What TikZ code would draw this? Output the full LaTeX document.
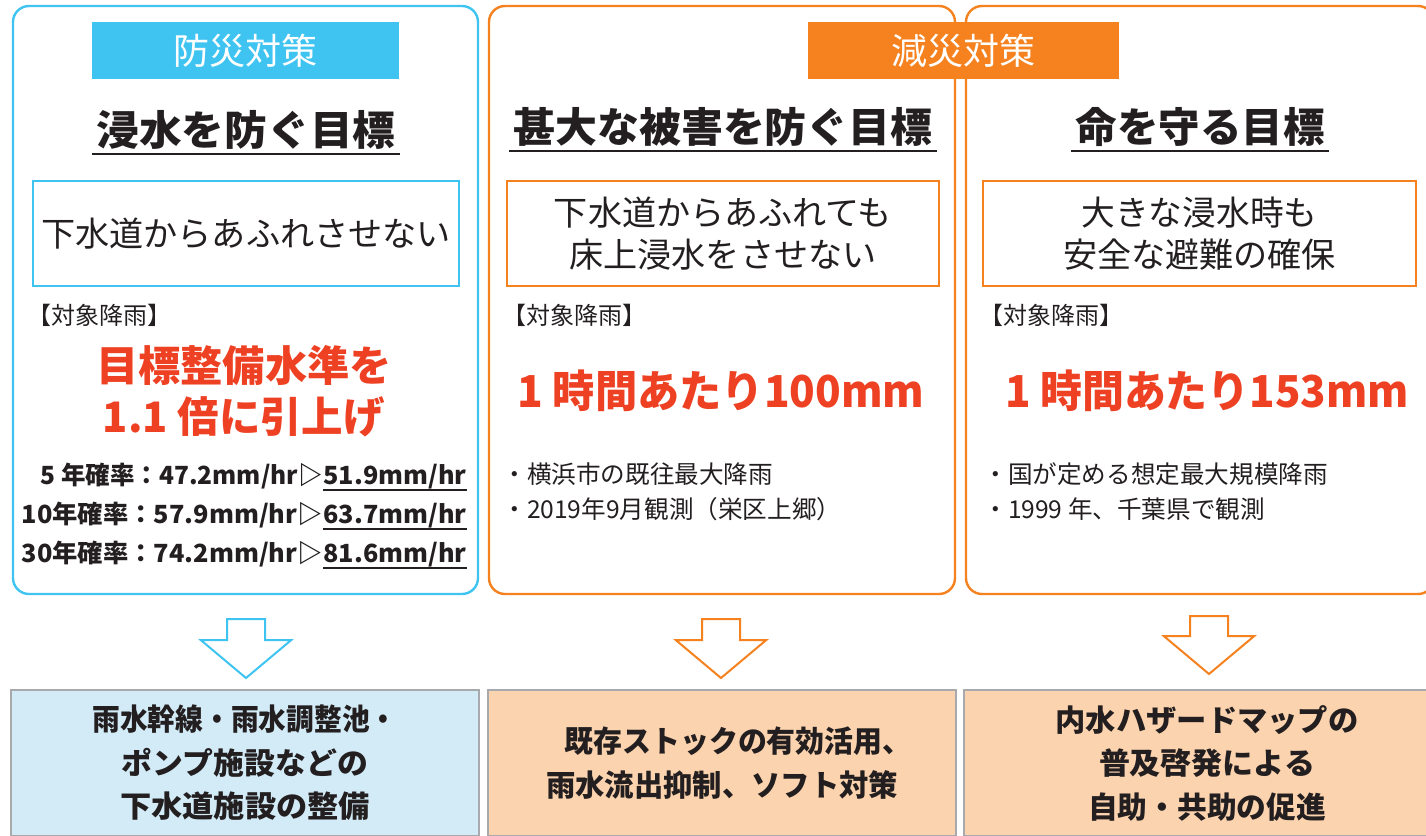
\documentclass[tikz,border=0pt]{standalone}
\usepackage{fontspec}
\setmainfont{Noto Sans CJK JP}
\usetikzlibrary{shapes.arrows}

\definecolor{bousai}{HTML}{3FC4F1}
\definecolor{gensai}{HTML}{F5821F}
\definecolor{akaji}{HTML}{EE4123}
\definecolor{sumi}{HTML}{231F20}
\definecolor{mizuiro}{HTML}{D3EBF7}
\definecolor{hadairo}{HTML}{FBD3AE}
\definecolor{waku}{HTML}{A7A9AC}

\newcommand{\fitto}[2]{\resizebox{#1}{\height}{#2}}
\newcommand{\fsz}[2]{\fontsize{#1}{#2}\selectfont}

\begin{document}
\begin{tikzpicture}[x=0.5pt, y=-0.5pt, text=sumi,
  panel/.style={line width=1.2pt, rounded corners=8pt},
  tab/.style={text=white, minimum height=28.5pt, inner sep=0pt, font=\fsz{18}{20}},
  goaltitle/.style={inner xsep=2pt, inner ysep=2pt, font=\fsz{20.5}{24}\bfseries},
  goalbox/.style={draw, line width=1pt, minimum height=52.5pt, align=center, font=\fsz{17}{21}},
  rainlabel/.style={anchor=west, inner sep=0pt, font=\fsz{12}{14}},
  rainred/.style={text=akaji, inner sep=0pt, align=center, font=\fsz{21}{25.5}\bfseries},
  ratepart/.style={inner sep=0pt, font=\fsz{12.5}{15}\bfseries},
  bullet/.style={anchor=west, inner sep=0pt, font=\fsz{12.3}{15}},
  downarrow/.style={single arrow, draw, line width=1pt, fill=white, rotate=-90, anchor=tail,
    inner xsep=0pt, inner ysep=9pt, single arrow head extend=13pt, single arrow tip angle=100},
  taisaku/.style={draw=waku, line width=0.75pt, minimum height=73pt, align=center,
    font=\fsz{15}{21.75}\bfseries}]

\clip (0,0) rectangle (1426,836);

% three columns
\draw[panel, bousai] (13,6) rectangle (478,594);
\draw[panel, gensai] (489,6) rectangle (955,594);
\draw[panel, gensai] (966,6) rectangle (1434,594);

\node[tab, fill=bousai, minimum width=153.5pt] (tabbou) at (245.5,50.5) {防災対策};
\node[tab, fill=gensai, minimum width=155.5pt] (tabgen) at (963.5,50.5) {減災対策};

% goals
\node[goaltitle] (title1) at (246,130) {\fitto{149.5pt}{浸水を防ぐ目標}};
\node[goaltitle] (title2) at (723,127) {\fitto{209.5pt}{甚大な被害を防ぐ目標}};
\node[goaltitle] (title3) at (1200,127) {\fitto{124.5pt}{命を守る目標}};
\foreach \t in {title1,title2,title3}
  \draw[sumi, line width=0.9pt] (\t.south west) -- (\t.south east);

\node[goalbox, draw=bousai, minimum width=213pt] (goal1) at (246,233.5)
  {\fitto{205pt}{下水道からあふれさせない}};
\node[goalbox, draw=gensai, minimum width=216pt] (goal2) at (723,233.5)
  {\fitto{169pt}{下水道からあふれても}\\\fitto{153.5pt}{床上浸水をさせない}};
\node[goalbox, draw=gensai, minimum width=216.5pt] (goal3) at (1199.5,233.5)
  {\fitto{118pt}{大きな浸水時も}\\\fitto{136.5pt}{安全な避難の確保}};

% target rainfall
\node[rainlabel] (rain1) at (27,315) {【対象降雨】};
\node[rainlabel] (rain2) at (502,315) {【対象降雨】};
\node[rainlabel] (rain3) at (979,315) {【対象降雨】};

\node[rainred] (level1) at (244,391.5)
  {\fitto{148pt}{目標整備水準を}\\\fitto{141pt}{1.1 倍に引上げ}};
\node[rainred, font=\fsz{22}{26}\bfseries] (level2) at (721,391) {\fitto{203.5pt}{1 時間あたり100mm}};
\node[rainred, font=\fsz{22}{26}\bfseries] (level3) at (1207,391) {\fitto{202pt}{1 時間あたり153mm}};

\node[ratepart, anchor=base east] (r5a) at (323,484) {\fitto{141pt}{5 年確率：47.2mm/hr▷}};
\node[ratepart, anchor=base west] (r5b) at (323,484) {\fitto{71.5pt}{51.9mm/hr}};
\node[ratepart, anchor=base east] (r10a) at (323,523) {\fitto{150.5pt}{10年確率：57.9mm/hr▷}};
\node[ratepart, anchor=base west] (r10b) at (323,523) {\fitto{71.5pt}{63.7mm/hr}};
\node[ratepart, anchor=base east] (r30a) at (323,562) {\fitto{150.5pt}{30年確率：74.2mm/hr▷}};
\node[ratepart, anchor=base west] (r30b) at (323,562) {\fitto{71.5pt}{81.6mm/hr}};
\foreach \r in {r5b,r10b,r30b}
  \draw[sumi, line width=0.9pt] ([yshift=-3pt]\r.base west) -- ([yshift=-3pt]\r.base east);

\node[bullet] (note2a) at (502,474) {・横浜市の既往最大降雨};
\node[bullet] (note2b) at (502,509) {・2019年9月観測（栄区上郷）};
\node[bullet] (note3a) at (983,474) {・国が定める想定最大規模降雨};
\node[bullet] (note3b) at (983,509) {・1999 年、千葉県で観測};

% arrows down to the measures
\node[downarrow, draw=bousai, minimum height=29.5pt] (arr1) at (246,618) {};
\node[downarrow, draw=gensai, minimum height=29.5pt] (arr2) at (721,618) {};
\node[downarrow, draw=gensai, minimum height=29pt] (arr3) at (1209,615) {};

\node[taisaku, fill=mizuiro, minimum width=234pt] (plan1) at (245,763)
  {\fitto{152.5pt}{雨水幹線・雨水調整池・}\\\fitto{123pt}{ポンプ施設などの}\\\fitto{125pt}{下水道施設の整備}};
\node[taisaku, fill=hadairo, minimum width=234pt] (plan2) at (722,763)
  {\hspace*{16pt}\fitto{173.5pt}{既存ストックの有効活用、}\\\fitto{176pt}{雨水流出抑制、ソフト対策}};
\node[taisaku, fill=hadairo, minimum width=243pt] (plan3) at (1207,763)
  {\fitto{151.5pt}{内水ハザードマップの}\\\fitto{108pt}{普及啓発による}\\\fitto{119pt}{自助・共助の促進}};
\end{tikzpicture}
\end{document}
